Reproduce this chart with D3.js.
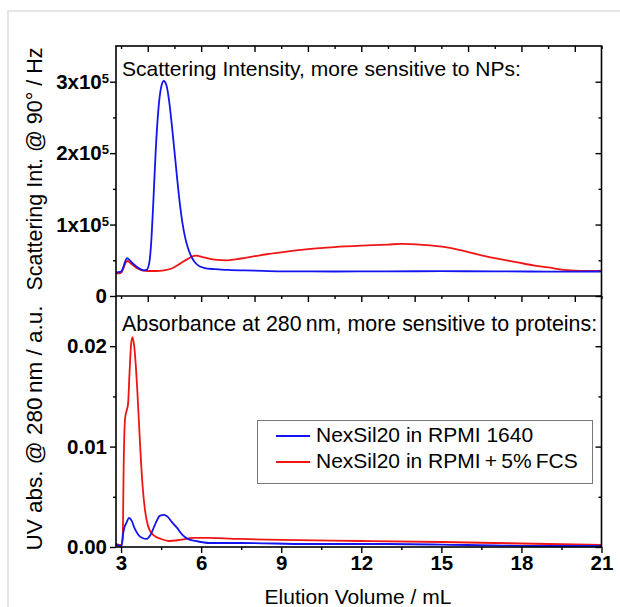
<!DOCTYPE html>
<html>
<head>
<meta charset="utf-8">
<script src="https://cdn.jsdelivr.net/npm/d3@7"></script>
<style>
  body { margin: 0; background: #fff; }
  svg { display: block; font-family: "Liberation Sans", Arial, sans-serif; }
</style>
</head>
<body>
<div id="chart"></div>
<script>
// Elution volume (mL) and signals
const scatVolBlue = [2.81, 3.0, 3.08, 3.15, 3.22, 3.3, 3.4, 3.55, 3.7, 3.85, 3.95, 4.05, 4.12, 4.2, 4.3, 4.4, 4.5, 4.6, 4.7, 4.8, 4.9, 5.0, 5.1, 5.2, 5.3, 5.4, 5.5, 5.6, 5.75, 5.9, 6.1, 6.5, 7.0, 8.0, 9.0, 11, 13, 15, 17, 19, 21];
const scatBlue = [33000, 34000, 40000, 48000, 53000, 51000, 47000, 42000, 38000, 36000, 36500, 45000, 70000, 125000, 205000, 262000, 292000, 301000, 295000, 273000, 240000, 203000, 165000, 130000, 102000, 82000, 68000, 58000, 48000, 42500, 39500, 37500, 36500, 35500, 34500, 34300, 34500, 34700, 34500, 34200, 34300];

const scatVolRed = [2.81, 3.0, 3.08, 3.15, 3.24, 3.32, 3.45, 3.6, 3.8, 4.0, 4.3, 4.6, 4.9, 5.2, 5.5, 5.8, 6.1, 6.5, 7.0, 7.5, 8.2, 9.0, 10.0, 11.0, 12.0, 13.0, 13.5, 14.3, 15.2, 15.8, 16.5, 17.2, 17.8, 18.5, 19.0, 19.5, 20.0, 20.5, 21];
const scatRed = [31500, 32500, 38000, 45000, 49000, 47000, 43000, 39000, 36000, 35000, 35000, 35800, 38500, 45000, 52000, 56500, 54000, 51000, 50000, 52500, 57000, 61000, 65500, 68500, 70500, 72000, 73000, 71500, 68000, 63500, 57000, 51500, 47500, 42500, 40000, 37000, 35500, 35000, 35500];

const uvVolBlue = [2.81, 2.95, 3.02, 3.07, 3.12, 3.2, 3.3, 3.4, 3.5, 3.65, 3.8, 3.95, 4.1, 4.3, 4.45, 4.6, 4.75, 4.9, 5.1, 5.3, 5.5, 5.8, 6.3, 7.5, 10, 13, 16, 19, 21];
const uvBlue = [0.0003, 0.0001, 0.0001, 0.0012, 0.0019, 0.0024, 0.0029, 0.0026, 0.0019, 0.0012, 0.0009, 0.0008, 0.0012, 0.0024, 0.0031, 0.0032, 0.0030, 0.0025, 0.0019, 0.0012, 0.0008, 0.0006, 0.0004, 0.0004, 0.0003, 0.0003, 0.0002, 0.0001, 0.0001];

const uvVolRed = [2.81, 3.0, 3.06, 3.1, 3.15, 3.2, 3.26, 3.32, 3.38, 3.43, 3.5, 3.6, 3.7, 3.8, 3.9, 4.0, 4.2, 4.5, 4.8, 5.2, 5.7, 6.3, 7.5, 9, 12, 15, 17, 19, 21];
const uvRed = [0.0003, 0.0002, 0.0008, 0.0085, 0.0128, 0.0135, 0.0142, 0.0175, 0.0203, 0.0209, 0.0198, 0.0160, 0.0108, 0.0063, 0.0036, 0.0022, 0.0012, 0.0008, 0.0006, 0.0007, 0.0009, 0.0009, 0.0008, 0.0007, 0.0006, 0.0005, 0.0004, 0.0003, 0.0002];

const xTicks = [3, 6, 9, 12, 15, 18, 21];
const scatTicks = [0, 1e5, 2e5, 3e5];
const uvTicks = [0, 0.01, 0.02];
const seriesNames = ["NexSil20 in RPMI 1640", "NexSil20 in RPMI\u2009+\u20095%\u2009FCS"];
const seriesColors = ["#1414f0", "#f01414"];

const width = 620, height = 607;
const left = 116, right = 601.5;
const topY = 46, midY = 296, botY = 547;
const font = "'Liberation Sans', Arial, sans-serif";

const svg = d3.select("#chart").append("svg")
  .attr("width", width)
  .attr("height", height);

// faint outer frame of the original figure
svg.append("rect")
  .attr("x", 8).attr("y", 11)
  .attr("width", 700).attr("height", 700)
  .attr("fill", "none")
  .attr("stroke", "#dedede")
  .attr("stroke-width", 1.5);

// scales
const x = d3.scaleLinear().domain([2.81, 21]).range([left, right]);
const yScat = d3.scaleLinear().domain([0, 3.5e5]).range([midY, topY]);
const yUv = d3.scaleLinear().domain([0, 0.025]).range([botY, midY]);

function styleAxis(g) {
  g.select(".domain").remove();
  g.selectAll(".tick line").attr("stroke", "#000").attr("stroke-width", 1.4);
  g.selectAll(".tick text")
    .attr("fill", "#000")
    .style("font-family", font)
    .style("font-size", "20.5px")
    .style("font-weight", "bold");
}

// ---- top panel ticks
svg.append("g").attr("transform", `translate(0,${midY})`)
  .call(d3.axisBottom(x).tickValues(d3.range(4, 22, 2)).tickSize(6).tickFormat(""))
  .call(styleAxis);
svg.append("g").attr("transform", `translate(0,${midY})`)
  .call(d3.axisBottom(x).tickValues(d3.range(3, 22, 2)).tickSize(3).tickFormat(""))
  .call(styleAxis);
svg.append("g").attr("transform", `translate(0,${topY})`)
  .call(d3.axisTop(x).tickValues(d3.range(4, 22, 2)).tickSize(-6).tickFormat(""))
  .call(styleAxis);
svg.append("g").attr("transform", `translate(0,${topY})`)
  .call(d3.axisTop(x).tickValues(d3.range(3, 22, 2)).tickSize(-3).tickFormat(""))
  .call(styleAxis);

const scatAxis = svg.append("g").attr("transform", `translate(${left},0)`)
  .call(d3.axisLeft(yScat).tickValues(scatTicks).tickSize(6).tickPadding(1))
  .call(styleAxis);
scatAxis.selectAll(".tick text").each(function(d) {
  const t = d3.select(this).text("");
  if (d === 0) { t.attr("dx", "-2px").text("0"); return; }
  t.append("tspan").text(`${d / 1e5}x10`);
  t.append("tspan").attr("dy", "-0.45em").style("font-size", "13px").text("5");
});
svg.append("g").attr("transform", `translate(${left},0)`)
  .call(d3.axisLeft(yScat).tickValues([0.5e5, 1.5e5, 2.5e5]).tickSize(3).tickFormat(""))
  .call(styleAxis);
svg.append("g").attr("transform", `translate(${right},0)`)
  .call(d3.axisRight(yScat).tickValues(scatTicks).tickSize(-6).tickFormat(""))
  .call(styleAxis);
svg.append("g").attr("transform", `translate(${right},0)`)
  .call(d3.axisRight(yScat).tickValues([0.5e5, 1.5e5, 2.5e5]).tickSize(-3).tickFormat(""))
  .call(styleAxis);

// ---- bottom panel ticks
svg.append("g").attr("transform", `translate(0,${botY})`)
  .call(d3.axisBottom(x).tickValues(xTicks).tickSize(6).tickPadding(2).tickFormat(d3.format("d")))
  .call(styleAxis);
svg.append("g").attr("transform", `translate(0,${botY})`)
  .call(d3.axisBottom(x).tickValues(d3.range(4.5, 21, 3)).tickSize(3).tickFormat(""))
  .call(styleAxis);
svg.append("g").attr("transform", `translate(${left},0)`)
  .call(d3.axisLeft(yUv).tickValues(uvTicks).tickSize(6).tickPadding(3).tickFormat(d3.format(".2f")))
  .call(styleAxis);
svg.append("g").attr("transform", `translate(${left},0)`)
  .call(d3.axisLeft(yUv).tickValues([0.005, 0.015]).tickSize(3).tickFormat(""))
  .call(styleAxis);
svg.append("g").attr("transform", `translate(${right},0)`)
  .call(d3.axisRight(yUv).tickValues(uvTicks).tickSize(-6).tickFormat(""))
  .call(styleAxis);
svg.append("g").attr("transform", `translate(${right},0)`)
  .call(d3.axisRight(yUv).tickValues([0.005, 0.015]).tickSize(-3).tickFormat(""))
  .call(styleAxis);

// ---- curves
const lineScat = d3.line()
  .x(d => x(d[0])).y(d => yScat(d[1]))
  .curve(d3.curveMonotoneX);
const lineUv = d3.line()
  .x(d => x(d[0])).y(d => yUv(d[1]))
  .curve(d3.curveMonotoneX);

const curves = svg.append("g");
curves.append("path")
  .attr("d", lineScat(d3.zip(scatVolRed, scatRed)))
  .attr("fill", "none").attr("stroke", seriesColors[1]).attr("stroke-width", 1.8);
curves.append("path")
  .attr("d", lineScat(d3.zip(scatVolBlue, scatBlue)))
  .attr("fill", "none").attr("stroke", seriesColors[0]).attr("stroke-width", 1.8);
curves.append("path")
  .attr("d", lineUv(d3.zip(uvVolRed, uvRed)))
  .attr("fill", "none").attr("stroke", seriesColors[1]).attr("stroke-width", 1.8);
curves.append("path")
  .attr("d", lineUv(d3.zip(uvVolBlue, uvBlue)))
  .attr("fill", "none").attr("stroke", seriesColors[0]).attr("stroke-width", 1.8);

// ---- panel frames
svg.append("rect")
  .attr("x", left).attr("y", topY)
  .attr("width", right - left).attr("height", botY - topY)
  .attr("fill", "none").attr("stroke", "#000").attr("stroke-width", 1.6);
svg.append("line")
  .attr("x1", left).attr("x2", right)
  .attr("y1", midY).attr("y2", midY)
  .attr("stroke", "#000").attr("stroke-width", 1.6);

// ---- panel titles
svg.append("text")
  .attr("x", 122).attr("y", 76)
  .style("font-size", "21px")
  .text("Scattering Intensity, more sensitive to NPs:");
svg.append("text")
  .attr("x", 122).attr("y", 331)
  .style("font-size", "21.4px")
  .text("Absorbance at 280\u2009nm, more sensitive to proteins:");

// ---- axis titles
svg.append("text")
  .attr("transform", "rotate(-90)")
  .attr("x", -169).attr("y", 42)
  .style("text-anchor", "middle")
  .style("font-size", "21.5px")
  .text("Scattering Int. @ 90\u00b0 / Hz");
svg.append("text")
  .attr("transform", "rotate(-90)")
  .attr("x", -428).attr("y", 42)
  .style("text-anchor", "middle")
  .style("font-size", "22.5px")
  .text("UV abs. @ 280\u2009nm / a.u.");
svg.append("text")
  .attr("x", 358).attr("y", 604)
  .style("text-anchor", "middle")
  .style("font-size", "21px")
  .text("Elution Volume / mL");

// ---- legend
const legend = svg.append("g");
legend.append("rect")
  .attr("x", 257.5).attr("y", 420.5)
  .attr("width", 335).attr("height", 63)
  .attr("fill", "#fff").attr("stroke", "#777").attr("stroke-width", 1);
seriesNames.forEach((name, i) => {
  const ly = 436 + i * 26;
  legend.append("line")
    .attr("x1", 276).attr("x2", 310)
    .attr("y1", ly).attr("y2", ly)
    .attr("stroke", seriesColors[i]).attr("stroke-width", 1.8);
  legend.append("text")
    .attr("x", 316).attr("y", ly + 6)
    .style("font-size", "21px")
    .text(name);
});
</script>
</body>
</html>
